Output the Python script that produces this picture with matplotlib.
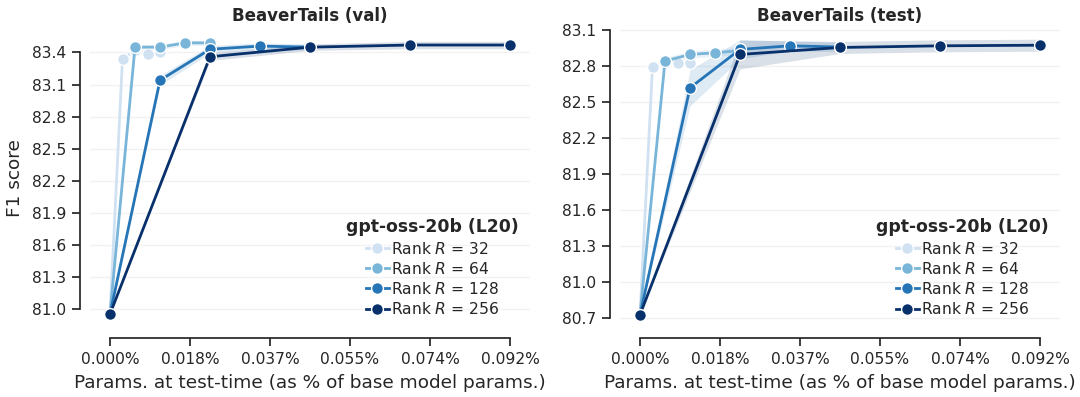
import numpy as np
import matplotlib
matplotlib.use("Agg")
import matplotlib.pyplot as plt
from matplotlib import cm

# ---------------- data ----------------
ranks = [32, 64, 128, 256]
titles = ["BeaverTails (val)", "BeaverTails (test)"]

# x: params at test-time (% of base model params)
x_r32 = [0.0, 0.002875, 0.00575, 0.008625, 0.0115]
x_r64 = [0.0, 0.00575, 0.0115, 0.01725, 0.023]
x_r128 = [0.0, 0.0115, 0.023, 0.0345, 0.046]
x_r256 = [0.0, 0.023, 0.046, 0.069, 0.092]

# val F1
val_r32 = [80.95, 83.34, 83.42, 83.39, 83.40]
val_r64 = [80.95, 83.45, 83.45, 83.49, 83.49]
val_r128 = [80.95, 83.14, 83.43, 83.46, 83.45]
val_r256 = [80.95, 83.36, 83.45, 83.47, 83.47]
# val band half-widths
val_err32 = [0.0, 0.025, 0.025, 0.025, 0.025]
val_err64 = [0.0, 0.025, 0.025, 0.025, 0.025]
val_err128 = [0.0, 0.045, 0.035, 0.03, 0.03]
val_err256 = [0.0, 0.035, 0.03, 0.035, 0.035]

# test F1
test_r32 = [80.73, 82.795, 82.83, 82.83, 82.83]
test_r64 = [80.73, 82.843, 82.898, 82.912, 82.93]
test_r128 = [80.73, 82.62, 82.94, 82.97, 82.96]
test_r256 = [80.73, 82.898, 82.956, 82.97, 82.975]
# test band half-widths
test_err32 = [0.0, 0.03, 0.03, 0.03, 0.03]
test_err64 = [0.0, 0.03, 0.03, 0.03, 0.03]
test_err128 = [0.0, 0.15, 0.08, 0.04, 0.04]
test_err256 = [0.0, 0.12, 0.05, 0.05, 0.05]

x_ticks = [0.0, 0.0184, 0.0368, 0.0552, 0.0736, 0.092]
y_ticks_val = [81.0, 81.3, 81.6, 81.9, 82.2, 82.5, 82.8, 83.1, 83.4]
y_ticks_test = [80.7, 81.0, 81.3, 81.6, 81.9, 82.2, 82.5, 82.8, 83.1]

xs = [x_r32, x_r64, x_r128, x_r256]
panels = [
    ([val_r32, val_r64, val_r128, val_r256], [val_err32, val_err64, val_err128, val_err256], y_ticks_val),
    ([test_r32, test_r64, test_r128, test_r256], [test_err32, test_err64, test_err128, test_err256], y_ticks_test),
]

# ---------------- style ----------------
plt.rcParams['font.family'] = ['DejaVu Sans']
plt.rcParams['text.color'] = '#262626'
plt.rcParams['axes.labelcolor'] = '#262626'
plt.rcParams['xtick.color'] = '#262626'
plt.rcParams['ytick.color'] = '#262626'

colors = [cm.Blues(v) for v in [0.2, 0.467, 0.733, 1.0]]

fig = plt.figure(figsize=(10.8, 3.97), dpi=100)
W, H = 1080, 397
ax_boxes = [(90, 29, 440, 299), (620, 29, 440, 299)]
ylims = [(80.82, 83.62), (80.62, 83.11)]

for i, (ys, errs, yt) in enumerate(panels):
    l, t, w, h = ax_boxes[i]
    ax = fig.add_axes([l / W, 1 - (t + h) / H, w / W, h / H])
    for j, r in enumerate(ranks):
        x = np.array(xs[j])
        y = np.array(ys[j])
        e = np.array(errs[j])
        ax.fill_between(x, y - e, y + e, color=colors[j], alpha=0.15, lw=0, zorder=1)
    for j, r in enumerate(ranks):
        ax.plot(xs[j], ys[j], color=colors[j], lw=2.0, marker='o', ms=8.5,
                mec='white', mew=1.0, label=f"Rank $R$ = {r}", zorder=3 + j)
    ax.set_xlim(-0.0046, 0.0966)
    ax.set_ylim(*ylims[i])
    ax.set_xticks(x_ticks)
    ax.set_xticklabels([f"{v:.3f}%" for v in x_ticks])
    ax.set_yticks(yt)
    ax.set_yticklabels([f"{v:.1f}" for v in yt])
    ax.tick_params(axis='both', labelsize=11.2, length=6, width=1.25, pad=4)
    ax.yaxis.grid(True, color='#f2f2f2', lw=1.0, zorder=0)
    ax.set_axisbelow(True)
    for s in ['top', 'right']:
        ax.spines[s].set_visible(False)
    for s in ['left', 'bottom']:
        ax.spines[s].set_linewidth(1.25)
        ax.spines[s].set_color('#262626')
        ax.spines[s].set_position(('outward', 7))
    ax.spines['left'].set_bounds(yt[0], yt[-1])
    ax.spines['bottom'].set_bounds(x_ticks[0], x_ticks[-1])
    ax.set_title(titles[i], fontsize=12, fontweight='bold', pad=6)
    ax.set_xlabel("Params. at test-time (as % of base model params.)", fontsize=13.3, labelpad=5)
    if i == 0:
        ax.set_ylabel("F1 score", fontsize=13.3, labelpad=6)
    leg = ax.legend(title="gpt-oss-20b (L20)", loc='lower right', frameon=False,
                    fontsize=11.2, title_fontproperties={'weight': 'bold', 'size': 12.4},
                    handlelength=1.5, handletextpad=0.15, labelspacing=0.27,
                    borderaxespad=0.3, bbox_to_anchor=(1.0, 0.0))

fig.savefig("out.png", dpi=100)
